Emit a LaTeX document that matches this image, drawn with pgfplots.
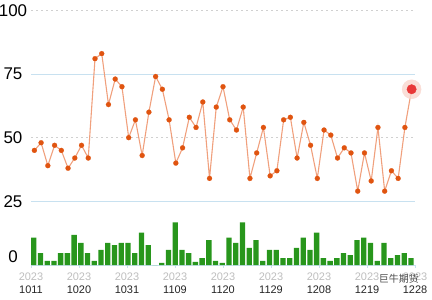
\documentclass[border=0pt]{standalone}
\usepackage{pgfplots}
\pgfplotsset{compat=1.18}
\usepackage{fontspec}
\setmainfont{Liberation Sans}
\newfontfamily\cjk{Noto Sans CJK SC}
\definecolor{linecol}{RGB}{240,160,125}
\definecolor{markcol}{RGB}{224,84,16}
\definecolor{barcol}{RGB}{40,150,28}
\definecolor{axisblue}{RGB}{200,225,240}
\definecolor{gridgray}{RGB}{208,208,208}
\definecolor{yeargray}{RGB}{190,190,190}
\definecolor{haloc}{RGB}{249,216,208}
\definecolor{lastred}{RGB}{232,56,56}
\begin{document}
\begin{tikzpicture}
\useasboundingbox (-31bp,-35bp) rectangle (401bp,265bp);
\begin{axis}[
  at={(0,0)}, anchor=south west,
  scale only axis, width=384bp, height=254.7bp,
  xmin=0, xmax=57, ymin=0, ymax=100,
  clip=false,
  axis line style={draw=none},
  xtick={0,7.125,14.25,21.375,28.5,35.625,42.75,49.875,57},
  xticklabels={{\textcolor{yeargray}{2023}\\1011},{\textcolor{yeargray}{2023}\\1020},{\textcolor{yeargray}{2023}\\1031},{\textcolor{yeargray}{2023}\\1109},{\textcolor{yeargray}{2023}\\1120},{\textcolor{yeargray}{2023}\\1129},{\textcolor{yeargray}{2023}\\1208},{\textcolor{yeargray}{2023}\\1219},{\textcolor{yeargray}{2023}\\1228}},
  xticklabel style={font=\fontsize{11}{12.6}\selectfont, align=center, text=black!85, anchor=north, inner sep=0pt, yshift=-5bp},
  xtick pos=left,
  xtick style={draw=axisblue, line width=0.8bp},
  tick align=outside,
  major tick length=3bp,
  ytick={3.3,25,50,75,100},
  yticklabels={0,25,50,75,100},
  ytick style={draw=none},
  yticklabel style={font=\fontsize{17}{17}\selectfont, anchor=center, xshift=-15bp, text=black},
]
\draw[gridgray, dash pattern=on 2bp off 3bp, line width=0.8bp] (axis cs:0,100) -- (axis cs:57,100);
\draw[gridgray, dash pattern=on 2bp off 3bp, line width=0.8bp] (axis cs:0,50) -- (axis cs:57,50);
\draw[axisblue, line width=0.9bp] (axis cs:0,75) -- (axis cs:57,75);
\draw[axisblue, line width=0.9bp] (axis cs:0,25) -- (axis cs:57,25);
\draw[axisblue, line width=0.9bp] (axis cs:0,0) -- (axis cs:57,0);
\addplot[ybar, bar width=5.3bp, fill=barcol, draw=none] coordinates {
(0.4,10.7)(1.4,4.7)(2.4,1.6)(3.4,1.6)(4.4,4.7)(5.4,4.7)(6.4,11.8)(7.4,8.7)(8.4,4.7)(9.4,1.6)
(10.4,5.9)(11.4,8.7)(12.4,7.8)(13.4,8.7)(14.4,8.7)(15.4,4.7)(16.4,12.7)(17.4,7.8)(18.4,0)(19.4,0.8)
(20.4,5.9)(21.4,16.7)(22.4,5.9)(23.4,4.7)(24.4,1.2)(25.4,2.7)(26.4,9.8)(27.4,1.6)(28.4,0.8)(29.4,10.7)
(30.4,8.7)(31.4,16.7)(32.4,6.7)(33.4,9.8)(34.4,1.6)(35.4,5.9)(36.4,5.9)(37.4,2.7)(38.4,2.7)(39.4,6.7)
(40.4,10.7)(41.4,5.9)(42.4,12.7)(43.4,2.7)(44.4,1.6)(45.4,2.7)(46.4,4.7)(47.4,3.9)(48.4,9.8)(49.4,10.7)
(50.4,8.7)(51.4,1.6)(52.4,8.7)(53.4,2.7)(54.4,3.9)(55.4,4.7)(56.4,2.7)
};
\addplot[linecol, line width=1.1bp, mark=none] coordinates {
(0.5,45)(1.5,48)(2.5,39)(3.5,47)(4.5,45)(5.5,38)(6.5,42)(7.5,47)(8.5,42)(9.5,81)
(10.5,83)(11.5,63)(12.5,73)(13.5,70)(14.5,50)(15.5,57)(16.5,43)(17.5,60)(18.5,74)(19.5,69)
(20.5,57)(21.5,40)(22.5,46)(23.5,58)(24.5,54)(25.5,64)(26.5,34)(27.5,62)(28.5,70)(29.5,57)
(30.5,53)(31.5,62)(32.5,34)(33.5,44)(34.5,54)(35.5,35)(36.5,37)(37.5,57)(38.5,58)(39.5,42)
(40.5,56)(41.5,47)(42.5,34)(43.5,53)(44.5,51)(45.5,42)(46.5,46)(47.5,44)(48.5,29)(49.5,44)
(50.5,33)(51.5,54)(52.5,29)(53.5,37)(54.5,34)(55.5,54)(56.5,69)
};
\addplot[only marks, mark=*, mark size=2.5bp, mark options={fill=markcol, draw=markcol, line width=0.2bp}] coordinates {
(0.5,45)(1.5,48)(2.5,39)(3.5,47)(4.5,45)(5.5,38)(6.5,42)(7.5,47)(8.5,42)(9.5,81)
(10.5,83)(11.5,63)(12.5,73)(13.5,70)(14.5,50)(15.5,57)(16.5,43)(17.5,60)(18.5,74)(19.5,69)
(20.5,57)(21.5,40)(22.5,46)(23.5,58)(24.5,54)(25.5,64)(26.5,34)(27.5,62)(28.5,70)(29.5,57)
(30.5,53)(31.5,62)(32.5,34)(33.5,44)(34.5,54)(35.5,35)(36.5,37)(37.5,57)(38.5,58)(39.5,42)
(40.5,56)(41.5,47)(42.5,34)(43.5,53)(44.5,51)(45.5,42)(46.5,46)(47.5,44)(48.5,29)(49.5,44)
(50.5,33)(51.5,54)(52.5,29)(53.5,37)(54.5,34)(55.5,54)
};
\addplot[only marks, mark=*, mark size=9.5bp, mark options={fill=haloc, draw=haloc, fill opacity=0.85, draw opacity=0.85}] coordinates {(56.5,69)};
\addplot[only marks, mark=*, mark size=4.7bp, mark options={fill=lastred, draw=lastred}] coordinates {(56.5,69)};
\node[font=\cjk\fontsize{10}{10}\selectfont, text=black!70, anchor=center] at (axis cs:54.6,-5.5) {巨牛期货};
\end{axis}
\end{tikzpicture}
\end{document}
